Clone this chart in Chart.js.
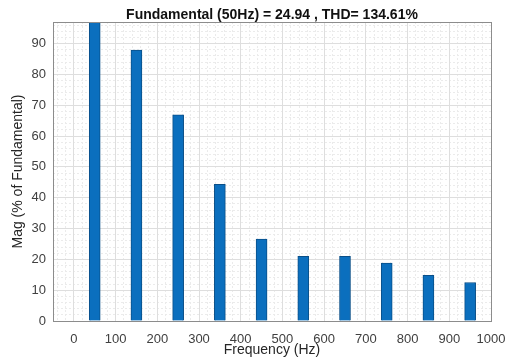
<!DOCTYPE html>
<html>
<head>
<meta charset="utf-8">
<script src="https://cdn.jsdelivr.net/npm/chart.js@4/dist/chart.umd.min.js"></script>
<style>
  html, body { margin: 0; padding: 0; background: #fff; }
  #wrap { width: 511px; height: 361px; }
</style>
</head>
<body>
<div id="wrap"><canvas id="harmChart" width="511" height="361"></canvas></div>
<script>
// harmonic spectrum, values
const freqs = [50, 150, 250, 350, 450, 550, 650, 750, 850, 950];
const mags = [100, 87.9, 66.9, 44.3, 26.6, 21.0, 21.0, 18.8, 14.8, 12.5];
const xTicks = [0, 100, 200, 300, 400, 500, 600, 700, 800, 900, 1000];
const yTicks = [0, 10, 20, 30, 40, 50, 60, 70, 80, 90];
const titleText = 'Fundamental (50Hz) = 24.94 , THD= 134.61%';

const FONT = "'Liberation Sans', Arial, sans-serif";

function minorTicks(min, max, step) {
  const out = [];
  for (let v = Math.ceil(min / step) * step; v <= max; v += step) out.push({ value: v });
  return out;
}

const ctx = document.getElementById('harmChart').getContext('2d');
const harmChart = new Chart(ctx, {
  type: 'bar',
  data: {
    datasets: [{
      label: 'Mag',
      data: freqs.map((f, i) => ({ x: f, y: mags[i] })),
      backgroundColor: '#0b6fbe',
      borderColor: '#0a4f88',
      borderWidth: 1,
      barThickness: 11
    }]
  },
  options: {
    responsive: false,
    animation: false,
    layout: { padding: { left: 0, right: 20, top: 0, bottom: 0 } },
    plugins: {
      legend: { display: false },
      tooltip: { enabled: false },
      title: {
        display: true,
        fullSize: false,
        text: titleText,
        color: '#111',
        font: { family: FONT, size: 14, weight: 'bold', lineHeight: 1 },
        padding: { top: 8, bottom: 0 }
      }
    },
    scales: {
      xMinor: {
        type: 'linear', position: 'bottom', min: -50, max: 1000, offset: false,
        afterBuildTicks: s => { s.ticks = minorTicks(-50, 1000, 20); },
        ticks: { display: false },
        grid: { color: '#ebebeb', drawTicks: false, offset: false },
        border: { display: false, dash: [2, 2] },
        afterFit: s => { s.height = 0; s.paddingLeft = 0; s.paddingRight = 0; }
      },
      yMinor: {
        type: 'linear', position: 'left', min: 0, max: 97, offset: false,
        afterBuildTicks: s => { s.ticks = minorTicks(0, 97, 2); },
        ticks: { display: false },
        grid: { color: '#ebebeb', drawTicks: false },
        border: { display: false, dash: [2, 2] },
        afterFit: s => { s.width = 0; s.paddingTop = 0; s.paddingBottom = 0; }
      },
      x: {
        type: 'linear', position: 'bottom', min: -50, max: 1000, offset: false,
        afterBuildTicks: s => { s.ticks = xTicks.map(v => ({ value: v })); },
        ticks: {
          color: '#404040', font: { family: FONT, size: 13 }, padding: 11, maxRotation: 0,
          callback: v => String(v)
        },
        grid: { color: '#dedede', drawTicks: false, offset: false },
        border: { color: '#8c8c8c', width: 1 },
        title: {
          display: true, text: 'Frequency (Hz)', color: '#262626',
          font: { family: FONT, size: 14 }, padding: { top: 0, bottom: 2 }
        },
        afterFit: s => { s.height = 40; s.paddingLeft = 0; s.paddingRight = 0; }
      },
      y: {
        type: 'linear', position: 'left', min: 0, max: 97,
        afterBuildTicks: s => { s.ticks = yTicks.map(v => ({ value: v })); },
        ticks: { color: '#404040', font: { family: FONT, size: 13 }, padding: 7 },
        grid: { color: '#dedede', drawTicks: false },
        border: { color: '#8c8c8c', width: 1 },
        title: {
          display: true, text: 'Mag (% of Fundamental)', color: '#262626',
          font: { family: FONT, size: 14 }, padding: { top: 10, bottom: 0 }
        },
        afterFit: s => { s.width = 53; }
      }
    }
  },
  plugins: [{
    id: 'boxFrame',
    afterDraw(chart) {
      const a = chart.chartArea, c = chart.ctx;
      c.save();
      c.strokeStyle = '#8c8c8c';
      c.lineWidth = 1;
      c.strokeRect(Math.round(a.left) + 0.5, Math.round(a.top) + 0.5,
        Math.round(a.right - a.left), Math.round(a.bottom - a.top));
      c.restore();
    }
  }]
});
</script>
</body>
</html>
